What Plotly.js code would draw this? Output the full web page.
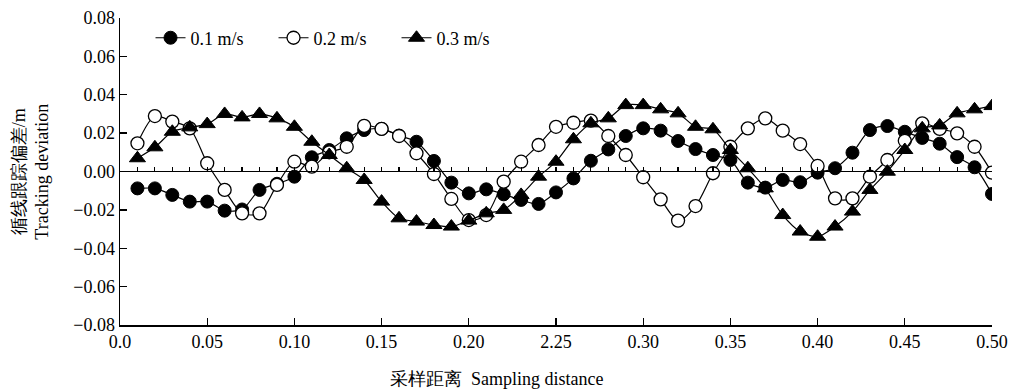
<!DOCTYPE html>
<html>
<head>
<meta charset="utf-8">
<script src="https://cdn.plot.ly/plotly-3.0.1.min.js"></script>
<style>html,body{margin:0;padding:0;background:#fff;}#chart{width:1022px;height:392px;}</style>
</head>
<body>
<div id="chart"></div>
<script>
// Sampling distance (x)
const xValues = [0.01,0.02,0.03,0.04,0.05,0.06,0.07,0.08,0.09,0.10,
                 0.11,0.12,0.13,0.14,0.15,0.16,0.17,0.18,0.19,0.20,
                 0.21,0.22,0.23,0.24,0.25,0.26,0.27,0.28,0.29,0.30,
                 0.31,0.32,0.33,0.34,0.35,0.36,0.37,0.38,0.39,0.40,
                 0.41,0.42,0.43,0.44,0.45,0.46,0.47,0.48,0.49,0.50];

// Tracking deviation, 0.1 m/s
const speed01 = [-0.0088,-0.0088,-0.0122,-0.0157,-0.0157,-0.0204,-0.0198,-0.0096,-0.0064,-0.0027,
                 0.0074,0.0112,0.0173,0.0216,0.0222,0.0187,0.0155,0.0055,-0.0058,-0.0114,
                 -0.0093,-0.0119,-0.0148,-0.0169,-0.0109,-0.0036,0.0056,0.0115,0.0185,0.0225,
                 0.0213,0.0159,0.0117,0.0086,0.0060,-0.0058,-0.0084,-0.0044,-0.0056,-0.0006,
                 0.0017,0.0098,0.0216,0.0237,0.0207,0.0175,0.0145,0.0075,0.0022,-0.0117];

// Tracking deviation, 0.2 m/s
const speed02 = [0.0147,0.0289,0.0260,0.0225,0.0043,-0.0096,-0.0218,-0.0218,-0.0070,0.0051,
                 0.0025,0.0100,0.0129,0.0238,0.0222,0.0185,0.0095,-0.0013,-0.0143,-0.0253,
                 -0.0227,-0.0053,0.0051,0.0138,0.0233,0.0254,0.0265,0.0185,0.0086,-0.0030,
                 -0.0145,-0.0256,-0.0180,-0.0009,0.0129,0.0225,0.0277,0.0213,0.0143,0.0029,
                 -0.0140,-0.0140,-0.0027,0.0060,0.0160,0.0251,0.0222,0.0199,0.0129,-0.0006];

// Tracking deviation, 0.3 m/s
const speed03 = [0.0069,0.0126,0.0207,0.0230,0.0247,0.0300,0.0282,0.0300,0.0277,0.0233,
                 0.0155,0.0086,0.0017,-0.0044,-0.0157,-0.0244,-0.0261,-0.0279,-0.0287,-0.0256,
                 -0.0218,-0.0200,-0.0122,-0.0027,0.0051,0.0168,0.0251,0.0277,0.0346,0.0346,
                 0.0324,0.0303,0.0233,0.0220,0.0112,0.0017,-0.0088,-0.0227,-0.0313,-0.0340,
                 -0.0287,-0.0209,-0.0096,-0.0001,0.0112,0.0225,0.0240,0.0303,0.0324,0.0341];

const seriesNames = ['0.1 m/s','0.2 m/s','0.3 m/s'];
const xTickVals = [0,0.05,0.10,0.15,0.20,0.25,0.30,0.35,0.40,0.45,0.50];
const xTickText = ['0.0','0.05','0.10','0.15','0.20','2.25','0.30','0.35','0.40','0.45','0.50'];
const yTickVals = [-0.08,-0.06,-0.04,-0.02,0,0.02,0.04,0.06,0.08];

const serif = '"Liberation Serif", "Times New Roman", Times, "DejaVu Serif", serif';

const lineStyle = {color:'#000', width:1.2, shape:'spline', smoothing:0.8};
const traces = [
  {x:xValues, y:speed01, name:seriesNames[0], type:'scatter', mode:'lines+markers',
   line:lineStyle, marker:{symbol:'circle', size:13, color:'#000', line:{color:'#000', width:1}}},
  {x:xValues, y:speed02, name:seriesNames[1], type:'scatter', mode:'lines+markers',
   line:lineStyle, marker:{symbol:'circle', size:13, color:'#fff', line:{color:'#000', width:1.3}}},
  {x:xValues, y:speed03, name:seriesNames[2], type:'scatter', mode:'lines+markers',
   line:lineStyle, marker:{symbol:'triangle-up', size:14, color:'#000', line:{color:'#000', width:1}}},
  // zero line carrying the small tick axis
  {x:[0,0.5], y:[0,0], xaxis:'x2', yaxis:'y', mode:'lines', line:{color:'#000', width:1.2},
   showlegend:false, hoverinfo:'skip'}
];

const layout = {
  width:1022, height:392,
  margin:{l:120, r:30, t:18, b:67},
  paper_bgcolor:'#fff', plot_bgcolor:'#fff',
  font:{family:serif, size:18, color:'#000'},
  showlegend:true,
  legend:{orientation:'h', x:0.035, y:0.995, xanchor:'left', yanchor:'top',
          font:{family:serif, size:18, color:'#000'}, bgcolor:'rgba(0,0,0,0)',
          entrywidth:78, entrywidthmode:'pixels', itemwidth:30, tracegroupgap:0},
  xaxis:{range:[0,0.5], tickvals:xTickVals, ticktext:xTickText,
         showline:true, linecolor:'#000', linewidth:1.5, mirror:false,
         ticks:'inside', ticklen:7, tickwidth:1.3, tickcolor:'#000',
         showgrid:false, zeroline:false, tickfont:{family:serif, size:18}},
  xaxis2:{range:[0,0.5], overlaying:'x', anchor:'free', position:0.5, side:'bottom',
          tick0:0, dtick:0.01, ticks:'inside', ticklen:5, tickwidth:1.2, tickcolor:'#000',
          showticklabels:false, showline:false, showgrid:false, zeroline:false},
  yaxis:{range:[-0.08,0.08], tickvals:yTickVals, tickformat:'.2f',
         showline:true, linecolor:'#000', linewidth:1.5,
         ticks:'inside', ticklen:7, tickwidth:1.3, tickcolor:'#000',
         showgrid:false, zeroline:false, tickfont:{family:serif, size:18}},
  annotations:[
    {text:'循线跟踪偏差/m<br>Tracking deviation', xref:'paper', yref:'paper',
     x:-0.103, y:0.5, xanchor:'center', yanchor:'middle', textangle:-90, showarrow:false,
     font:{family:serif, size:18, color:'#000'}},
    {text:'采样距离  Sampling distance', xref:'paper', yref:'paper',
     x:0.432, y:-0.175, xanchor:'center', yanchor:'middle', showarrow:false,
     font:{family:serif, size:18, color:'#000'}}
  ]
};

Plotly.newPlot('chart', traces, layout, {displayModeBar:false, staticPlot:true});
</script>
</body>
</html>
